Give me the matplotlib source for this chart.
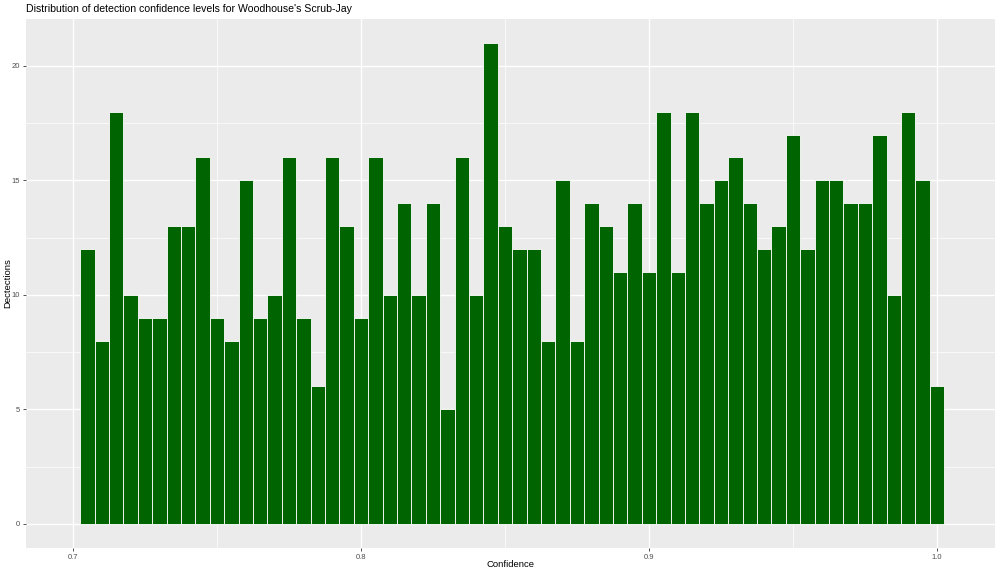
import matplotlib
matplotlib.use("Agg")
import matplotlib.pyplot as plt
import numpy as np
from matplotlib.ticker import MultipleLocator

plt.rcParams["font.family"] = ["Liberation Sans", "DejaVu Sans"]

# Histogram of detection confidence (bin width 0.005)
bin_start = 0.7025
bin_width = 0.005
counts = [12, 8, 18, 10, 9, 9, 13, 13, 16, 9,
          8, 15, 9, 10, 16, 9, 6, 16, 13, 9,
          16, 10, 14, 10, 14, 5, 16, 10, 21, 13,
          12, 12, 8, 15, 8, 14, 13, 11, 14, 11,
          18, 11, 18, 14, 15, 16, 14, 12, 13, 17,
          12, 15, 15, 14, 14, 17, 10, 18, 15, 6]

x_ticks = [0.7, 0.8, 0.9, 1.0]
x_tick_labels = ["0.7", "0.8", "0.9", "1.0"]
y_ticks = [0, 5, 10, 15, 20]

PANEL = "#EBEBEB"
TEXT = "#4D4D4D"
BAR = "#006400"

left_edges = bin_start + bin_width * np.arange(len(counts))

fig = plt.figure(figsize=(10, 5.73), dpi=100)
ax = fig.add_axes([0.026, 0.044, 0.969, 0.923])
ax.set_facecolor(PANEL)

ax.bar(left_edges, counts, width=bin_width, align="edge",
       color=BAR, edgecolor="white", linewidth=0.6, zorder=3)

ax.set_xlim(0.6837, 1.0201)
ax.set_ylim(-1.05, 22.05)

ax.set_xticks(x_ticks)
ax.set_xticklabels(x_tick_labels)
ax.set_yticks(y_ticks)
ax.xaxis.set_minor_locator(MultipleLocator(0.05))
ax.yaxis.set_minor_locator(MultipleLocator(2.5))

ax.grid(which="major", color="white", linewidth=1.0, zorder=0)
ax.grid(which="minor", color="white", linewidth=0.5, zorder=0)
ax.set_axisbelow(True)

for s in ax.spines.values():
    s.set_visible(False)

ax.tick_params(which="major", length=2.5, width=0.6, color="#333333",
               labelsize=5.5, labelcolor=TEXT, pad=2)
ax.tick_params(which="minor", length=0)

ax.set_xlabel("Confidence", fontsize=6.8, va="center")
ax.set_ylabel("Dectections", fontsize=6.8, va="center")
ax.xaxis.set_label_coords(0.5, -0.032)
ax.yaxis.set_label_coords(-0.0186, 0.5)

fig.text(0.026, 0.984, "Distribution of detection confidence levels for Woodhouse's Scrub-Jay",
         fontsize=7.6, ha="left", va="center", color="black")

fig.savefig("out.png", dpi=100, facecolor="white")
